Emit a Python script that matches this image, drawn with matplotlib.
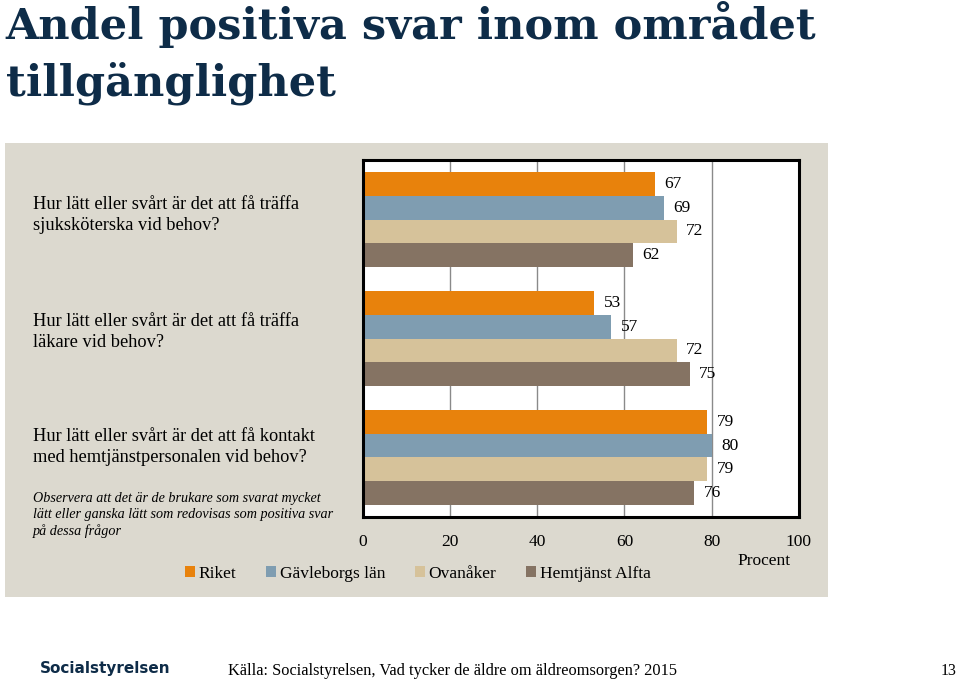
import numpy as np
import matplotlib.pyplot as plt
from matplotlib.patches import Rectangle

# data
fragor = [
    "Hur lätt eller svårt är det att få träffa\nsjuksköterska vid behov?",
    "Hur lätt eller svårt är det att få träffa\nläkare vid behov?",
    "Hur lätt eller svårt är det att få kontakt\nmed hemtjänstpersonalen vid behov?",
]
serier = ["Riket", "Gävleborgs län", "Ovanåker", "Hemtjänst Alfta"]
riket = [67, 53, 79]
gavleborg = [69, 57, 80]
ovanaker = [72, 72, 79]
alfta = [62, 75, 76]
xticks = [0, 20, 40, 60, 80, 100]

farger = ["#E8820C", "#7F9DB1", "#D6C29A", "#857363"]
bakgrund = "#DCD9CF"
titelfarg = "#0E2C48"
serif = "Liberation Serif"

fig = plt.figure(figsize=(9.6, 6.85), dpi=100)

# title
fig.text(0.006, 0.943, "Andel positiva svar inom området", fontsize=31, fontweight="bold",
         family="DejaVu Serif", color=titelfarg, va="baseline")
fig.text(0.006, 0.861, "tillgänglighet", fontsize=31, fontweight="bold",
         family="DejaVu Serif", color=titelfarg, va="baseline")

# beige panel
fig.patches.append(Rectangle((0.0052, 0.1285), 0.857, 0.6627, transform=fig.transFigure,
                             facecolor=bakgrund, edgecolor="none", zorder=-1))

ax = fig.add_axes([0.378, 0.2453, 0.454, 0.521])
ax.set_facecolor("white")

y = np.arange(len(fragor))
h = 0.2
varden = [riket, gavleborg, ovanaker, alfta]
for i, (namn, v) in enumerate(zip(serier, varden)):
    pos = y - 0.3 + i * h
    ax.barh(pos, v, height=h, color=farger[i], label=namn, zorder=2)
    for p, val in zip(pos, v):
        ax.text(val + 2.2, p, str(val), va="center", ha="left", fontsize=12.5,
                family=serif, zorder=3)

ax.set_xlim(0, 100)
ax.set_ylim(2.5, -0.5)
ax.set_yticks([])
ax.set_xticks(xticks)
ax.set_xticklabels([str(t) for t in xticks], family=serif, fontsize=12.5)
ax.tick_params(axis="x", length=0, pad=12)
ax.grid(axis="x", color="#8A8A8A", linewidth=1, zorder=1)
for s in ax.spines.values():
    s.set_linewidth(2.2)
    s.set_color("black")

fig.text(0.823, 0.181, "Procent", fontsize=12.5, family=serif, ha="right", va="center")

# question labels
for txt, ypx in zip(fragor, [215, 332, 447]):
    fig.text(0.034, 1 - ypx / 685, txt, fontsize=13.2, family=serif, va="center",
             linespacing=1.25)

fig.text(0.034, 1 - 515 / 685,
         "Observera att det är de brukare som svarat mycket\nlätt eller ganska lätt som redovisas som positiva svar\npå dessa frågor",
         fontsize=10.2, family=serif, style="italic", va="center", linespacing=1.3)

leg = fig.legend(loc="center", bbox_to_anchor=(0.435, 1 - 574 / 685), ncol=4, frameon=False,
                 prop={"family": serif, "size": 12.5}, handlelength=0.6, handleheight=0.6,
                 handletextpad=0.2, columnspacing=1.7)

# footer
fig.text(0.042, 1 - 668 / 685, "Socialstyrelsen", fontsize=11, fontweight="bold",
         family="DejaVu Sans", color=titelfarg, va="center")
fig.text(0.238, 1 - 671 / 685, "Källa: Socialstyrelsen, Vad tycker de äldre om äldreomsorgen? 2015",
         fontsize=11.8, family=serif, va="center")
fig.text(0.996, 1 - 671 / 685, "13", fontsize=11.5, family=serif, va="center", ha="right")

fig.savefig("out.png", dpi=100, facecolor="white")
